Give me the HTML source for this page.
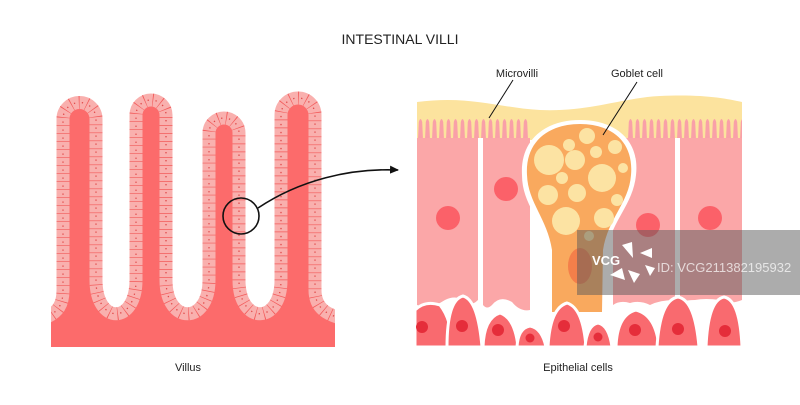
<!DOCTYPE html>
<html><head><meta charset="utf-8"><style>
html,body{margin:0;padding:0;background:#fff;width:800px;height:405px;overflow:hidden}
svg{display:block}
text{font-family:"Liberation Sans",sans-serif;fill:#222}
</style></head><body>
<svg width="800" height="405" viewBox="0 0 800 405" xmlns="http://www.w3.org/2000/svg">
<defs>
<pattern id="mv" x="417" y="0" width="7" height="405" patternUnits="userSpaceOnUse">
<path d="M1 140 L1.8 122 Q3.5 116 5.2 122 L6 140 Z" fill="#f9a0a8"/>
</pattern>
<marker id="ah" markerWidth="10" markerHeight="10" refX="8" refY="5" orient="auto" markerUnits="userSpaceOnUse">
<path d="M0,1 L9,5 L0,9 Z" fill="#111"/>
</marker>
<clipPath id="vc"><rect x="51" y="80" width="284" height="267"/></clipPath>
</defs>
<text x="400" y="44" font-size="14" text-anchor="middle">INTESTINAL VILLI</text>

<!-- villi -->
<g clip-path="url(#vc)">
<path d="M51 315 C58 312 63 305 63 290 L63 119 A16.5 16.5 0 0 1 96 119 L96 280 C96 325 136 325 136 280 L136 115 A15 15 0 0 1 166 115 L166 280 C166 325 209 325 209 280 L209 133 A15 15 0 0 1 239 133 L239 280 C239 325 281 325 281 280 L281 115 A17 17 0 0 1 315 115 L315 290 C315 310 330 315 335 315 L335 347 L51 347 Z" fill="#fc6b6b"/>
<path d="M45 318 C58 312 63 305 63 290 L63 119 A16.5 16.5 0 0 1 96 119 L96 280 C96 325 136 325 136 280 L136 115 A15 15 0 0 1 166 115 L166 280 C166 325 209 325 209 280 L209 133 A15 15 0 0 1 239 133 L239 280 C239 325 281 325 281 280 L281 115 A17 17 0 0 1 315 115 L315 290 C315 310 330 315 340 318" fill="none" stroke="#f9b0ae" stroke-width="13"/>
<path d="M45 318 C58 312 63 305 63 290 L63 119 A16.5 16.5 0 0 1 96 119 L96 280 C96 325 136 325 136 280 L136 115 A15 15 0 0 1 166 115 L166 280 C166 325 209 325 209 280 L209 133 A15 15 0 0 1 239 133 L239 280 C239 325 281 325 281 280 L281 115 A17 17 0 0 1 315 115 L315 290 C315 310 330 315 340 318" fill="none" stroke="#f25a5a" stroke-width="13" stroke-dasharray="0.7 7.3"/>
<path d="M45 318 C58 312 63 305 63 290 L63 119 A16.5 16.5 0 0 1 96 119 L96 280 C96 325 136 325 136 280 L136 115 A15 15 0 0 1 166 115 L166 280 C166 325 209 325 209 280 L209 133 A15 15 0 0 1 239 133 L239 280 C239 325 281 325 281 280 L281 115 A17 17 0 0 1 315 115 L315 290 C315 310 330 315 340 318" fill="none" stroke="#e04848" stroke-width="1.3" stroke-dasharray="1.3 6.7" stroke-dashoffset="-3"/>
<rect x="51" y="324" width="284" height="23" fill="#fc6b6b"/>
</g>
<circle cx="241" cy="216" r="18" fill="none" stroke="#111" stroke-width="1.6"/>
<path d="M258 208 C300 180 350 168 398 170" fill="none" stroke="#111" stroke-width="1.6" marker-end="url(#ah)"/>

<!-- right panel -->
<g>
<path d="M417 102 C470 95 500 108 540 110 C590 112 620 98 660 96 C700 94 725 98 742 102 L742 140 L417 140 Z" fill="#fce39e"/>
<rect x="417" y="115" width="113" height="25" fill="url(#mv)"/>
<rect x="628" y="115" width="114" height="25" fill="url(#mv)"/>
<!-- cells -->
<path d="M417 138 H478 V300 Q470 308 462 300 Q455 295 445 300 Q430 310 417 305 Z" fill="#fba7a8"/>
<path d="M483 138 H530 L530 310 Q520 312 512 302 Q500 295 492 305 Q487 310 483 305 Z" fill="#fba7a8"/>
<path d="M613 138 H675 V300 Q660 300 650 305 Q640 300 630 303 Q620 300 613 305 Z" fill="#fba7a8"/>
<path d="M680 138 H742 V300 Q730 305 720 300 Q705 298 695 300 Q687 300 680 302 Z" fill="#fba7a8"/>
<rect x="478" y="138" width="5" height="170" fill="#fff"/>
<rect x="675" y="138" width="5" height="165" fill="#fff"/>
<circle cx="448" cy="218" r="12" fill="#fb6169"/>
<circle cx="506" cy="189" r="12" fill="#fb6169"/>
<circle cx="648" cy="225" r="12" fill="#fb6169"/>
<circle cx="710" cy="218" r="12" fill="#fb6169"/>
<!-- goblet -->
<path d="M580 120 C615 120 640 140 636 175 C633 205 612 220 607 250 L606 318 L548 318 L548 250 C543 220 522 205 522 175 C520 140 545 120 580 120 Z" fill="#fff"/>
<path d="M580 124 C612 124 634 142 631 175 C629 203 608 218 603 250 L602 312 L552 312 L552 250 C547 218 528 203 527 175 C525 142 548 124 580 124 Z" fill="#f9a95e"/>
<g fill="#fce3a3">
<circle cx="549" cy="160" r="15"/><circle cx="587" cy="136" r="8"/><circle cx="569" cy="145" r="6"/>
<circle cx="596" cy="152" r="6"/><circle cx="615" cy="147" r="7"/><circle cx="575" cy="160" r="10"/>
<circle cx="602" cy="178" r="14"/><circle cx="623" cy="168" r="5"/><circle cx="562" cy="178" r="6"/>
<circle cx="548" cy="195" r="10"/><circle cx="577" cy="193" r="9"/><circle cx="617" cy="200" r="6"/>
<circle cx="566" cy="221" r="14"/><circle cx="604" cy="218" r="10"/><circle cx="589" cy="236" r="5"/>
</g>
<ellipse cx="580" cy="266" rx="12" ry="18" fill="#f47f4a"/>
<!-- basal cells -->
<g fill="#f96a6f" stroke="#fff" stroke-width="3">
<path d="M415 347 L415 310 Q425 300 440 305 Q452 320 452 347 Z"/>
<path d="M447 347 Q447 300 463 296 Q478 300 482 347 Z"/>
<path d="M483 347 Q484 318 500 313 Q515 318 518 347 Z"/>
<path d="M517 347 Q518 328 530 326 Q542 328 546 347 Z"/>
<path d="M548 347 Q550 308 567 303 Q583 308 586 347 Z"/>
<path d="M585 347 Q587 325 598 323 Q609 325 612 347 Z"/>
<path d="M616 347 Q617 315 636 310 Q656 315 659 347 Z"/>
<path d="M657 347 Q660 300 678 297 Q695 300 699 347 Z"/>
<path d="M706 347 Q708 300 724 297 Q740 300 742 347 Z"/>
</g>
<g fill="#e52d3a">
<circle cx="422" cy="327" r="6"/><circle cx="462" cy="326" r="6"/><circle cx="498" cy="330" r="6"/>
<circle cx="530" cy="338" r="4.5"/><circle cx="564" cy="326" r="6"/><circle cx="598" cy="337" r="4.5"/>
<circle cx="635" cy="330" r="6"/><circle cx="678" cy="329" r="6"/><circle cx="725" cy="331" r="6"/>
</g>
</g>
<path d="M489 118 L513 80" stroke="#111" stroke-width="1"/>
<path d="M603 135 L637 82" stroke="#111" stroke-width="1"/>
<text x="517" y="77" font-size="11" text-anchor="middle">Microvilli</text>
<text x="637" y="77" font-size="11" text-anchor="middle">Goblet cell</text>
<text x="188" y="371" font-size="11" text-anchor="middle">Villus</text>
<text x="578" y="371" font-size="11" text-anchor="middle">Epithelial cells</text>
<!-- watermark -->
<rect x="577" y="230" width="223" height="65" fill="rgba(90,90,90,0.5)"/>
<text x="592" y="265" font-size="13" font-weight="bold" style="fill:#fff">VCG</text>
<g fill="#fff"><path d="M622 245 L632 242 L633 258 Z"/><path d="M640 253 L652 248 L652 258 Z"/><path d="M610 275 L622 268 L625 280 Z"/><path d="M628 270 L640 274 L634 283 Z"/><path d="M645 265 L655 268 L650 276 Z"/></g>
<text x="657" y="272" font-size="13" style="fill:rgba(255,255,255,0.7)">ID: VCG211382195932</text>
</svg>
</body></html>
